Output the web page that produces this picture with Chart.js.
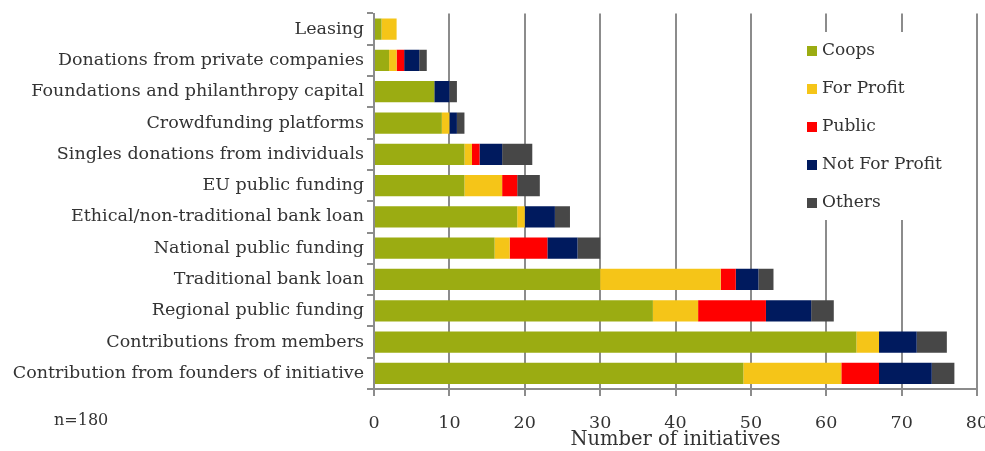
<!DOCTYPE html>
<html>
<head>
<meta charset="utf-8">
<script src="https://cdn.jsdelivr.net/npm/chart.js@4"></script>
<style>
  html, body { margin: 0; padding: 0; background: #fff; }
  #wrap { width: 985px; height: 451px; }
</style>
</head>
<body>
<div id="wrap"><canvas id="chart-funding"></canvas></div>
<script>
var labels = ['Leasing', 'Donations from private companies', 'Foundations and philanthropy capital',
  'Crowdfunding platforms', 'Singles donations from individuals', 'EU public funding',
  'Ethical/non-traditional bank loan', 'National public funding', 'Traditional bank loan',
  'Regional public funding', 'Contributions from members', 'Contribution from founders of initiative'];

var coops        = [1, 2, 8, 9, 12, 12, 19, 16, 30, 37, 64, 49];
var forProfit    = [2, 1, 0, 1, 1, 5, 1, 2, 16, 6, 3, 13];
var publicOrg    = [0, 1, 0, 0, 1, 2, 0, 5, 2, 9, 0, 5];
var notForProfit = [0, 2, 2, 1, 3, 0, 4, 4, 3, 6, 5, 7];
var others       = [0, 1, 1, 1, 4, 3, 2, 3, 2, 3, 4, 3];

var xTicks = [0, 10, 20, 30, 40, 50, 60, 70, 80];

var serif = '"DejaVu Serif", serif';
var gridGray = '#8c8c8c';

function getData(title, numbers, color) {
    return {
        label: title,
        data: numbers,
        backgroundColor: color,
        borderWidth: 0,
        barPercentage: 0.68,
        categoryPercentage: 1
    };
}

// legend box over the plot + the n= note
var extras = {
    id: 'extras',
    afterDraw: function(chart) {
        var ctx = chart.ctx;
        ctx.save();
        ctx.fillStyle = '#ffffff';
        ctx.fillRect(795, 32, 178, 188);
        ctx.font = '17px ' + serif;
        ctx.textBaseline = 'middle';
        chart.data.datasets.forEach(function(ds, i) {
            var y = 51 + i * 38;
            ctx.fillStyle = ds.backgroundColor;
            ctx.fillRect(807, y - 5, 10, 10);
            ctx.fillStyle = '#333333';
            ctx.fillText(ds.label, 822, y);
        });
        ctx.font = '16px ' + serif;
        ctx.fillText('n=180', 54, 421);
        ctx.restore();
    }
};

function createGraphic(content) {
    var ctx = document.getElementById(content);
    return new Chart(ctx, {
        type: 'bar',
        data: {
            labels: labels,
            datasets: [
                getData('Coops', coops, '#9bac12'),
                getData('For Profit', forProfit, '#f5c518'),
                getData('Public', publicOrg, '#ff0000'),
                getData('Not For Profit', notForProfit, '#001a5e'),
                getData('Others', others, '#474747')
            ]
        },
        options: {
            indexAxis: 'y',
            responsive: true,
            maintainAspectRatio: false,
            animation: false,
            layout: { padding: { top: 12, right: 8, left: 0, bottom: 0 } },
            plugins: { legend: { display: false }, tooltip: { enabled: false } },
            scales: {
                x: {
                    stacked: true,
                    min: 0, max: 80,
                    afterBuildTicks: function(s) { s.ticks = xTicks.map(function(v) { return { value: v }; }); },
                    afterFit: function(s) { s.height = 62; s.paddingRight = 0; },
                    grid: { color: gridGray, lineWidth: 2, tickLength: 7, tickColor: gridGray },
                    border: { display: true, color: gridGray, width: 2 },
                    ticks: { font: { family: serif, size: 17.5 }, color: '#333', padding: 17, maxRotation: 0 },
                    title: { display: true, text: 'Number of initiatives', font: { family: serif, size: 19.5 }, color: '#333', padding: { top: -6, bottom: -1 } }
                },
                y: {
                    stacked: true,
                    afterFit: function(s) { s.width = 374; },
                    grid: { offset: true, drawOnChartArea: false, tickLength: 7, color: gridGray, lineWidth: 2 },
                    border: { display: true, color: gridGray, width: 2 },
                    ticks: { font: { family: serif, size: 17.5 }, color: '#333', padding: 3 }
                }
            }
        },
        plugins: [extras]
    });
}

createGraphic('chart-funding');
</script>
</body>
</html>
